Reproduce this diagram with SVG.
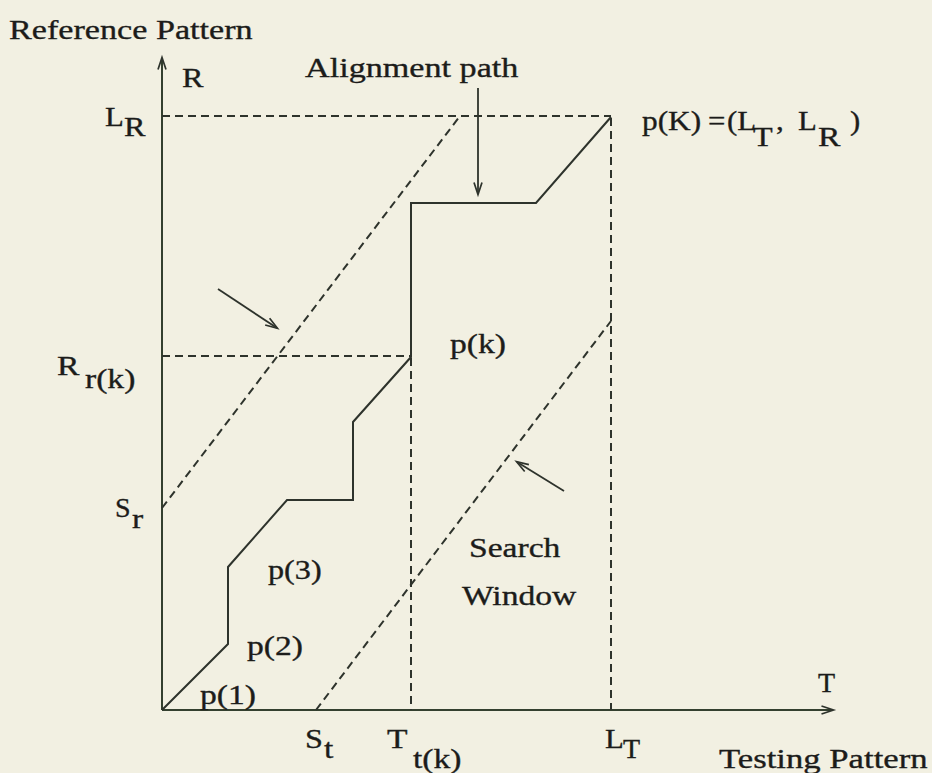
<svg xmlns="http://www.w3.org/2000/svg" width="932" height="773" viewBox="0 0 932 773">
  <style>
    .t { font-family: "Liberation Serif", "Times New Roman", serif; font-size: 28px; fill: #1c1c1a; stroke: #1c1c1a; stroke-width: 0.35; }
    .ax { stroke: #34402f; stroke-width: 2; fill: none; }
    .ln { stroke: #2e332c; stroke-width: 2; fill: none; stroke-linejoin: miter; }
    .ds { stroke: #2e332c; stroke-width: 2; fill: none; stroke-dasharray: 8 5; }
    .an { stroke: #2e332c; stroke-width: 1.8; fill: none; }
  </style>
  <defs>
    <marker id="arr" viewBox="0 0 12 10" refX="11.5" refY="5" markerWidth="12" markerHeight="10" orient="auto" markerUnits="userSpaceOnUse" overflow="visible">
      <path d="M0,1 L12,5 L0,9" fill="none" stroke="#2e332c" stroke-width="1.7"/>
    </marker>
  </defs>
  <rect width="932" height="773" fill="#f2f0e2"/>

  <g id="axes">
    <line class="ax" x1="162" y1="710" x2="162" y2="58" marker-end="url(#arr)"/>
    <line class="ax" x1="162" y1="710" x2="833" y2="710" marker-end="url(#arr)"/>
  </g>

  <g id="guides">
    <line class="ds" x1="162" y1="116" x2="611" y2="116"/>
    <line class="ds" x1="611" y1="118" x2="611" y2="710"/>
    <line class="ds" x1="162" y1="356" x2="411" y2="356"/>
    <line class="ds" x1="411" y1="358" x2="411" y2="710"/>
    <line class="ds" x1="162" y1="508" x2="460" y2="116"/>
    <line class="ds" x1="316" y1="710" x2="611" y2="321"/>
  </g>

  <g id="alignment-path">
    <polyline class="ln" points="162,710 228,644 228,567 287,500 353,500 353,422 411,357 411,203 536,203 611,117"/>
  </g>

  <g id="connectors">
    <line class="an" x1="478" y1="88" x2="478" y2="194" marker-end="url(#arr)"/>
    <line class="an" x1="218" y1="289" x2="277" y2="328" marker-end="url(#arr)"/>
    <line class="an" x1="564" y1="491" x2="517" y2="462" marker-end="url(#arr)"/>
  </g>

  <g id="labels">
    <text class="t" transform="translate(9 39) scale(1.22 1)">Reference Pattern</text>
    <text class="t" transform="translate(182 87) scale(1.15 1)">R</text>
    <text class="t" transform="translate(105 126) scale(1.1 1)">L</text>
    <text class="t" transform="translate(124 136) scale(1.15 1)">R</text>
    <text class="t" transform="translate(305 77) scale(1.22 1)">Alignment path</text>
    <text class="t" transform="translate(642 130) scale(1.12 1)">p(K)</text>
    <text class="t" transform="translate(708 130) scale(1.1 1)">=</text>
    <text class="t" transform="translate(727 130) scale(1.1 1)">(L</text>
    <text class="t" transform="translate(753 146) scale(1.15 1)">T</text>
    <text class="t" transform="translate(776 130) scale(1.1 1)">,</text>
    <text class="t" transform="translate(798 130) scale(1.1 1)">L</text>
    <text class="t" transform="translate(818 146) scale(1.2 1)">R</text>
    <text class="t" transform="translate(850 130) scale(1.1 1)">)</text>
    <text class="t" transform="translate(57 375) scale(1.2 1)">R</text>
    <text class="t" transform="translate(85 388) scale(1.2 1)">r(k)</text>
    <text class="t" transform="translate(115 517) scale(1.0 1)">S</text>
    <text class="t" transform="translate(132 528) scale(1.2 1)">r</text>
    <text class="t" transform="translate(450 353) scale(1.2 1)">p(k)</text>
    <text class="t" transform="translate(268 579) scale(1.15 1)">p(3)</text>
    <text class="t" transform="translate(247 655) scale(1.2 1)">p(2)</text>
    <text class="t" transform="translate(200 704) scale(1.2 1)">p(1)</text>
    <text class="t" transform="translate(469 557) scale(1.2 1)">Search</text>
    <text class="t" transform="translate(462 605) scale(1.2 1)">Window</text>
    <text class="t" transform="translate(305 748) scale(1.15 1)">S</text>
    <text class="t" transform="translate(324 758) scale(1.2 1)">t</text>
    <text class="t" transform="translate(387 748) scale(1.2 1)">T</text>
    <text class="t" transform="translate(413 768) scale(1.2 1)">t(k)</text>
    <text class="t" transform="translate(605 748) scale(1.1 1)">L</text>
    <text class="t" transform="translate(623 758) scale(1.0 1)">T</text>
    <text class="t" transform="translate(818 692) scale(1.0 1)">T</text>
    <text class="t" transform="translate(719 768) scale(1.24 1)">Testing Pattern</text>
  </g>
</svg>
